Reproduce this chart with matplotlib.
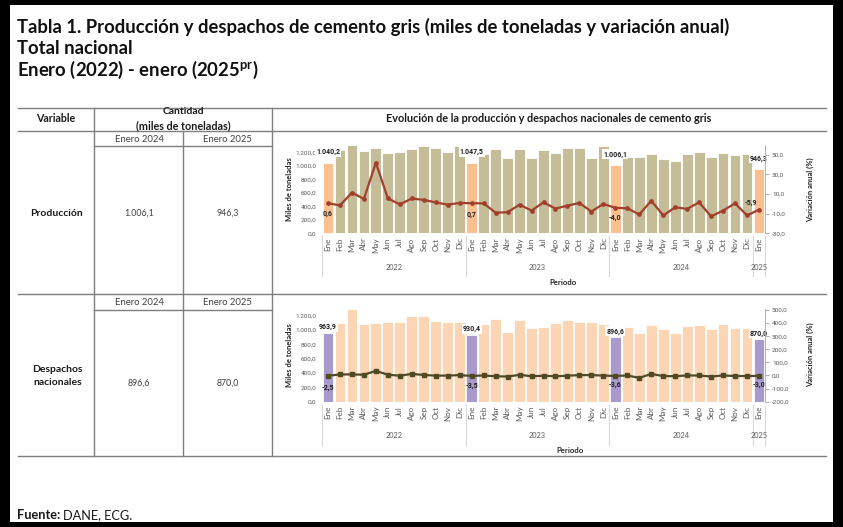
import matplotlib
matplotlib.use('Agg')
import matplotlib.pyplot as plt
from matplotlib import font_manager
from matplotlib.patches import Rectangle
import matplotlib.transforms as mtransforms
import numpy as np

names = {f.name for f in font_manager.fontManager.ttflist}
if 'Liberation Sans Narrow' in names:
    FONT = 'Liberation Sans Narrow'
elif 'Lato' in names:
    FONT = 'Lato'
else:
    FONT = 'DejaVu Sans'
NUMFONT = 'Roboto' if 'Roboto' in names else FONT
plt.rcParams['font.family'] = [FONT, 'DejaVu Sans']
plt.rcParams['mathtext.fontset'] = 'custom'
plt.rcParams['mathtext.rm'] = FONT
plt.rcParams['mathtext.bf'] = FONT + ':bold'

# ---------------- data ----------------
months = ['Ene', 'Feb', 'Mar', 'Abr', 'May', 'Jun', 'Jul', 'Ago', 'Sep', 'Oct', 'Nov', 'Dic']
month_labels = months * 3 + ['Ene']
years = ['2022', '2023', '2024', '2025']

prod_values = [1040.2, 1234, 1300, 1224, 1268, 1194, 1209, 1244, 1293, 1268, 1209, 1298,
               1047.5, 1170, 1249, 1120, 1249, 1120, 1234, 1190, 1270, 1270, 1115, 1298,
               1006.1, 1126, 1126, 1170, 1101, 1076, 1175, 1200, 1126, 1194, 1155, 1170,
               946.3]
prod_var = [0.6, -1.5, 11.5, 5.0, 42.0, 5.5, -0.5, 5.5, 4.0, 1.5, -0.8, 0.9,
            0.7, 0.5, -9.0, -8.5, -0.8, -6.8, 1.5, -4.8, -1.8, 0.9, -7.8, -0.1,
            -4.0, -4.5, -10.8, 3.2, -11.8, -3.5, -5.1, 1.5, -12.8, -6.8, 0.5, -11.8,
            -5.9]
desp_values = [963.9, 1103, 1290, 1080, 1103, 1117, 1117, 1196, 1196, 1126, 1117, 1117,
               930.4, 1089, 1159, 978, 1135, 1033, 1047, 1103, 1140, 1115, 1105, 1090,
               896.6, 1040, 955, 1075, 1015, 955, 1060, 1075, 1015, 1085, 1025, 1025,
               870.0]
desp_var = [-2.5, 8, 8, 6, 35, 6, -2, 12, 4, -1, -1, 3,
            -3.5, 0, -6, -8, 5, -6, -2, -6, -2, 3, 3, -1,
            -3.6, 0, -18, 12, -5, -5, 0, 0, -8, 0, -4, -4,
            -3.0]

table_var = ['Producción', 'Despachos\nnacionales']
table_2024 = ['1.006,1', '896,6']
table_2025 = ['946,3', '870,0']


def es(v, d=1):
    s = f"{v:,.{d}f}"
    return s.replace(',', 'X').replace('.', ',').replace('X', '.')


W, H = 843, 527
fig = plt.figure(figsize=(W / 100, H / 100), dpi=100, facecolor='black')
bg = fig.add_axes([0, 0, 1, 1])
bg.set_xlim(0, W)
bg.set_ylim(H, 0)
bg.axis('off')
bg.add_patch(Rectangle((10, 5), 823, 517, facecolor='white', edgecolor='none'))
renderer = fig.canvas.get_renderer()


def ftext(x, y, s, width=None, size=8, **kw):
    t = bg.text(x, y, s, fontsize=size, **kw)
    if width:
        w = t.get_window_extent(renderer).width
        t.set_fontsize(size * width / w)
    return t


# titles (same size for the three lines, sized so that line 1 spans the reference width)
t1 = ftext(17, 27, 'Tabla 1. Producción y despachos de cemento gris (miles de toneladas y variación anual)',
           width=708, size=12, fontweight='bold', ha='left', va='center', color='#111111')
TS = t1.get_fontsize()
ftext(17, 48, 'Total nacional', size=TS, fontweight='bold', ha='left', va='center', color='#111111')
ftext(17, 70, r'Enero (2022) - enero (2025$^{\mathbf{pr}}$)', size=TS, fontweight='bold',
      ha='left', va='center', color='#111111')

# table lines
LC = '#7f7f7f'
L, R = 18, 826
for yy in (108, 131, 294, 456):
    bg.plot([L, R], [yy, yy], color=LC, lw=1.0)
for yy in (146, 309.5):
    bg.plot([94, 272], [yy, yy], color=LC, lw=1.0)
for xx in (94, 272):
    bg.plot([xx, xx], [108, 456], color=LC, lw=1.0)
bg.plot([183, 183], [131, 456], color=LC, lw=1.0)

TC = '#1a1a1a'
ftext(56, 119, 'Variable', width=40, size=7, fontweight='bold', ha='center', va='center', color=TC)
ftext(183, 112, 'Cantidad', width=42, size=7, fontweight='bold', ha='center', va='center', color=TC)
ftext(183, 125.5, '(miles de toneladas)', width=95, size=7, fontweight='bold', ha='center', va='center', color=TC)
ftext(549, 119, 'Evolución de la producción y despachos nacionales de cemento gris', width=330, size=7,
      fontweight='bold', ha='center', va='center', color=TC)

tv = ftext(139, 213, table_2024[0], width=30, size=6.3, ha='center', va='center', color='#404040')
VS = tv.get_fontsize()
for k, (sub, mid) in enumerate([(139, 213), (302.5, 383)]):
    ftext(139, sub, 'Enero 2024', width=49, size=7, ha='center', va='center', color='#404040')
    ftext(227.5, sub, 'Enero 2025', width=49, size=7, ha='center', va='center', color='#404040')
    if k > 0:
        ftext(139, mid, table_2024[k], size=VS, ha='center', va='center', color='#404040')
    ftext(227.5, mid, table_2025[k], size=VS, ha='center', va='center', color='#404040')
tp = ftext(56.5, 213, table_var[0], width=53, size=7, fontweight='bold', ha='center', va='center', color=TC)
ftext(57.5, 376, table_var[1], size=tp.get_fontsize(), fontweight='bold', ha='center', va='center', color=TC,
      linespacing=1.5)

tf = ftext(17, 515, 'Fuente:', width=43, size=8.5, fontweight='bold', ha='left', va='center', color=TC)
wf = tf.get_window_extent(renderer).width
ftext(17 + wf + 3, 515, 'DANE, ECG.', size=tf.get_fontsize(), ha='left', va='center', color=TC)

# ---------------- charts ----------------
x = np.arange(len(month_labels))
GRAY = '#595959'


def make_chart(top_px, bot_px, values, var, bar_c, jan_c, line_c, mk, mk_size, ylim_r, rticks,
               bar_lbl_off, var_lbl_offsets, periodo_x):
    ax = fig.add_axes([322 / W, 1 - bot_px / H, (765 - 322) / W, (bot_px - top_px) / H])
    cols = [jan_c if m == 'Ene' else bar_c for m in month_labels]
    ax.bar(x, values, width=0.9, color=cols, edgecolor='white', linewidth=0.6, zorder=2)
    ax.set_xlim(-0.5, len(x) - 0.5)
    ax.set_ylim(0, 1300)
    ax.set_yticks(np.arange(0, 1201, 200), [es(v) for v in np.arange(0, 1201, 200)])
    ax.tick_params(axis='y', length=0, labelsize=4.6, labelcolor=GRAY, pad=4)
    for lab in ax.get_yticklabels():
        lab.set_family(NUMFONT)
    ax.set_xticks(x, month_labels, rotation=90)
    ax.tick_params(axis='x', length=0, labelsize=5.8, labelcolor=GRAY, pad=3)
    for s in ax.spines.values():
        s.set_visible(False)
    ax.patch.set_alpha(0)
    # bar labels at January bars
    for i, m in enumerate(month_labels):
        if m == 'Ene':
            ax.annotate(es(values[i]), (x[i], values[i]), xytext=(0, bar_lbl_off),
                        textcoords='offset pixels', ha='center', va='center', fontsize=5.0,
                        fontweight='bold', color='#1f1f1f', zorder=5, family=NUMFONT,
                        bbox=dict(boxstyle='square,pad=0.15', fc='white', ec='none'))
    axr = ax.twinx()
    axr.plot(x, var, color=line_c, lw=1.6, marker=mk, ms=mk_size, mfc=line_c, mec=line_c, zorder=3)
    axr.set_ylim(*ylim_r)
    axr.set_yticks(rticks, [es(v) for v in rticks])
    axr.tick_params(axis='y', length=3, width=0.6, color='#a6a6a6', labelsize=4.6, labelcolor=GRAY, pad=2)
    for lab in axr.get_yticklabels():
        lab.set_family(NUMFONT)
    for k, s in axr.spines.items():
        s.set_visible(k == 'right')
    axr.spines['right'].set_color('#a6a6a6')
    axr.spines['right'].set_linewidth(0.6)
    jan_idx = [i for i, m in enumerate(month_labels) if m == 'Ene']
    for j, i in enumerate(jan_idx):
        dx, dy = var_lbl_offsets[j]
        axr.annotate(es(var[i]), (x[i], var[i]), xytext=(dx, dy), textcoords='offset pixels',
                     ha='center', va='center', fontsize=5.0, fontweight='bold', color='#1f1f1f',
                     zorder=6, family=NUMFONT)
    # year groups
    tr = mtransforms.blended_transform_factory(ax.transData, bg.transData)
    bounds = [-0.5, 11.5, 23.5, 35.5, 36.5]
    for b in bounds:
        bg.plot([b, b], [bot_px + 3, bot_px + 43], color='#d9d9d9', lw=0.8, transform=tr, clip_on=False)
    for k, yr in enumerate(years):
        cx = (bounds[k] + bounds[k + 1]) / 2
        bg.text(cx, bot_px + 34, yr, transform=tr, ha='center', va='center', fontsize=5.3, color=GRAY)
    bg.text(periodo_x, bot_px + 49, 'Periodo', ha='center', va='center', fontsize=5.6, fontweight='bold',
            color='#262626')
    mid = (top_px + bot_px) / 2
    bg.text(289, mid, 'Miles de toneladas', rotation=90, ha='center', va='center', fontsize=5.5,
            fontweight='bold', color='#262626')
    bg.text(810, mid, 'Variación anual (%)', rotation=90, ha='center', va='center', fontsize=5.5,
            fontweight='bold', color='#262626')
    return ax, axr


make_chart(145.5, 233.3, prod_values, prod_var, '#C4BD97', '#FAC090', '#A23F2C', 'o', 2.4,
           (-30, 59.5), [-30, -10, 10, 30, 50], 11,
           [(0, -11), (0, -12), (0, -10), (-8, 7)], 563)
make_chart(308.5, 401.7, desp_values, desp_var, '#FCD5B5', '#A99ACD', '#4F4A24', 's', 2.4,
           (-200, 511), [-200, -100, 0, 100, 200, 300, 400, 500], 6,
           [(0, -12), (0, -10), (0, -9), (0, -9)], 570)

fig.savefig('out.png', dpi=100, facecolor=fig.get_facecolor())
